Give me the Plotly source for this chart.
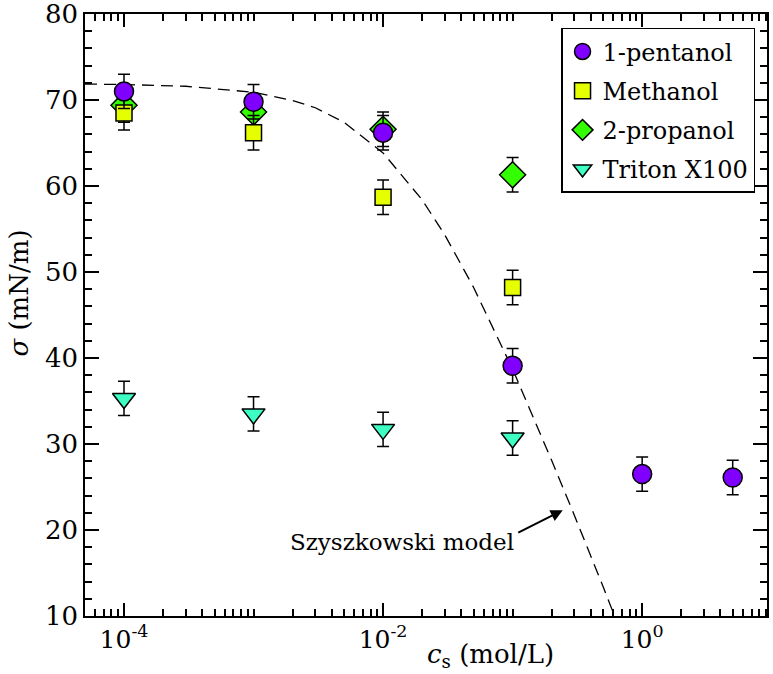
import numpy as np
import plotly.graph_objects as go

# ---- data ----
conc = [1e-4, 1e-3, 1e-2, 1e-1]
conc_pent = [1e-4, 1e-3, 1e-2, 1e-1, 1.0, 5.0]
pentanol = [71.0, 69.8, 66.2, 39.1, 26.5, 26.1]
methanol = [68.5, 66.2, 58.7, 48.2]
propanol = [69.4, 68.6, 66.6, 61.3]
triton = [35.3, 33.5, 31.7, 30.7]
err = 2.0

model_c = [5e-5, 1e-4, 3e-4, 1e-3, 2e-3, 3e-3, 5e-3, 1e-2, 2e-2, 3e-2, 5e-2,
           0.1, 0.2, 0.3, 0.5, 0.58, 0.65]
model_sigma = [71.85, 71.8, 71.6, 70.9, 69.95, 69.1, 67.4, 63.85, 58.4, 54.3,
               48.2, 38.7, 28.1, 21.7, 13.4, 10.9, 9.0]

x_major = [1e-4, 1e-2, 1.0]
x_major_text = ["10<sup>-4</sup>", "10<sup>-2</sup>", "10<sup>0</sup>"]

FONT = "DejaVu Serif"

fig = go.Figure()

fig.add_trace(go.Scatter(
    x=model_c, y=model_sigma, mode="lines",
    line=dict(color="black", width=1.3, dash="12px,7px"),
    showlegend=False, hoverinfo="skip"))

def errs():
    return dict(type="constant", value=err, color="black", thickness=1.5, width=6)

fig.add_trace(go.Scatter(
    x=conc, y=triton, mode="markers", name="Triton X100", legendrank=4,
    legendgroup="d",
    marker=dict(symbol="triangle-down", size=20, color="#3DFFC4",
                line=dict(color="black", width=1.5)),
    error_y=errs()))
fig.add_trace(go.Scatter(
    x=conc, y=propanol, mode="markers", name="2-propanol", legendrank=3,
    legendgroup="c",
    marker=dict(symbol="diamond", size=20, color="#33FF00",
                line=dict(color="black", width=1.5)),
    error_y=errs()))
fig.add_trace(go.Scatter(
    x=conc, y=methanol, mode="markers", name="Methanol", legendrank=2,
    legendgroup="b",
    marker=dict(symbol="square", size=16, color="#E6FF00",
                line=dict(color="black", width=1.5)),
    error_y=errs()))
fig.add_trace(go.Scatter(
    x=conc_pent, y=pentanol, mode="markers", name="1-pentanol", legendrank=1,
    legendgroup="a",
    marker=dict(symbol="circle", size=19, color="#7F00FF",
                line=dict(color="black", width=1.5)),
    error_y=errs()))

x_minor = []
for d in range(-5, 1):
    for k in range(1, 10):
        v = k * 10.0 ** d
        if v in x_major:
            continue
        x_minor.append(v)

fig.update_xaxes(
    type="log", range=[np.log10(5e-5), np.log10(9.2)],
    tickmode="array", tickvals=x_major, ticktext=x_major_text,
    ticks="inside", ticklen=13, tickwidth=1.5, tickcolor="black",
    showline=True, linecolor="black", linewidth=1.5, mirror="allticks",
    showgrid=False, zeroline=False, ticklabeloverflow="allow",
    tickfont=dict(family=FONT, size=25, color="black"),
    minor=dict(tickmode="array", tickvals=x_minor, ticks="inside",
               ticklen=7, tickwidth=1.5, tickcolor="black", showgrid=False))

fig.update_yaxes(
    range=[10, 80], tickmode="linear", tick0=10, dtick=10,
    ticks="inside", ticklen=14, tickwidth=1.5, tickcolor="black",
    showline=True, linecolor="black", linewidth=1.5, mirror="allticks",
    showgrid=False, zeroline=False, ticklabeloverflow="allow",
    tickfont=dict(family=FONT, size=26, color="black"),
    minor=dict(dtick=2, ticks="inside", ticklen=7, tickwidth=1.5,
               tickcolor="black", showgrid=False))

fig.update_layout(
    width=773, height=674,
    margin=dict(l=85, r=6, t=14, b=58, autoexpand=False),
    plot_bgcolor="white", paper_bgcolor="white",
    font=dict(family=FONT, color="black"),
    legend=dict(x=0.698, y=0.977, xanchor="left", yanchor="top",
                bordercolor="black", borderwidth=1.5, bgcolor="white",
                font=dict(family=FONT, size=24, color="black"),
                tracegroupgap=5, itemsizing="trace"),
    annotations=[
        dict(x=-0.613, y=22.3, ax=-0.968, ay=19.6, xref="x", yref="y",
             axref="x", ayref="y", text="", showarrow=True, arrowhead=2,
             arrowsize=1.2, arrowwidth=2, arrowcolor="black"),
        dict(x=-0.975, y=18.6, xref="x", yref="y", xanchor="right",
             yanchor="middle", text="Szyszkowski model", showarrow=False,
             font=dict(family=FONT, size=23, color="black")),
        dict(x=0.594, y=-0.066, xref="paper", yref="paper",
             xanchor="center", yanchor="middle", showarrow=False,
             text="<i>c</i><sub>s</sub> (mol/L)",
             font=dict(family=FONT, size=26, color="black")),
        dict(x=-0.097, y=0.537, xref="paper", yref="paper",
             xanchor="center", yanchor="middle", showarrow=False,
             textangle=-90, text="<i>σ</i> (mN/m)",
             font=dict(family=FONT, size=26, color="black")),
    ])

fig.write_html("out.html")
